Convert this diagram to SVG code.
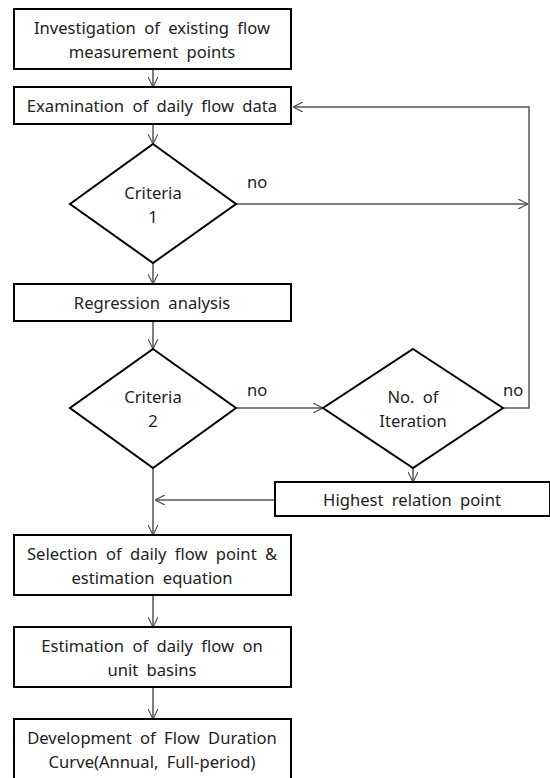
<svg xmlns="http://www.w3.org/2000/svg" width="550" height="778" viewBox="0 0 550 778">
<defs>
<marker id="arr" viewBox="0 0 10 10" refX="10" refY="5" markerWidth="10" markerHeight="10" markerUnits="userSpaceOnUse" orient="auto">
<path d="M0,0 L10,5 L0,10" fill="none" stroke="#555" stroke-width="1.2"/>
</marker>
<style>
.box{fill:#fff;stroke:#000;stroke-width:2}
.t{font-family:"Noto Sans","Open Sans",sans-serif;font-size:16.6px;fill:#222;text-anchor:middle;word-spacing:4px}
.l{font-family:"Noto Sans","Open Sans",sans-serif;font-size:16.6px;fill:#222}
.c{fill:none;stroke:#555;stroke-width:1.5}
</style>
</defs>
<rect width="550" height="778" fill="#fff"/>
<g id="connectors">
<line class="c" x1="153" y1="69" x2="153" y2="87" marker-end="url(#arr)"/>
<line class="c" x1="153" y1="124" x2="153" y2="144" marker-end="url(#arr)"/>
<line class="c" x1="153" y1="263" x2="153" y2="284" marker-end="url(#arr)"/>
<line class="c" x1="153" y1="321" x2="153" y2="349" marker-end="url(#arr)"/>
<line class="c" x1="236" y1="204" x2="528" y2="204" marker-end="url(#arr)"/>
<polyline class="c" points="503,408 529,408 529,107 293,107" marker-end="url(#arr)"/>
<line class="c" x1="236" y1="408" x2="323" y2="408" marker-end="url(#arr)"/>
<line class="c" x1="413" y1="468" x2="413" y2="482" marker-end="url(#arr)"/>
<line class="c" x1="275" y1="500" x2="155" y2="500" marker-end="url(#arr)"/>
<line class="c" x1="153" y1="468" x2="153" y2="535" marker-end="url(#arr)"/>
<line class="c" x1="153" y1="595" x2="153" y2="627" marker-end="url(#arr)"/>
<line class="c" x1="153" y1="687" x2="153" y2="719" marker-end="url(#arr)"/>
<text class="l" x="247" y="188">no</text>
<text class="l" x="247" y="396">no</text>
<text class="l" x="503" y="396">no</text>
</g>
<g id="n1">
<rect class="box" x="14" y="9" width="277" height="60"/>
<text class="t" x="152" y="34">Investigation of existing flow</text>
<text class="t" x="152" y="58">measurement points</text>
</g>
<g id="n2">
<rect class="box" x="14" y="87" width="277" height="37"/>
<text class="t" x="152" y="112">Examination of daily flow data</text>
</g>
<g id="d1">
<polygon class="box" points="153,144 236,204 153,263 70,204"/>
<text class="t" x="153" y="199">Criteria</text>
<text class="t" x="153" y="223">1</text>
</g>
<g id="n3">
<rect class="box" x="14" y="284" width="277" height="37"/>
<text class="t" x="152" y="309">Regression analysis</text>
</g>
<g id="d2">
<polygon class="box" points="153,349 236,408 153,468 70,408"/>
<text class="t" x="153" y="403">Criteria</text>
<text class="t" x="153" y="427">2</text>
</g>
<g id="d3">
<polygon class="box" points="413,349 503,408 413,468 323,408"/>
<text class="t" x="413" y="403">No. of</text>
<text class="t" x="413" y="427">Iteration</text>
</g>
<g id="n4">
<rect class="box" x="275" y="482" width="275" height="34"/>
<text class="t" x="412" y="506">Highest relation point</text>
</g>
<g id="n5">
<rect class="box" x="14" y="535" width="277" height="60"/>
<text class="t" x="152" y="560">Selection of daily flow point &amp;</text>
<text class="t" x="152" y="584">estimation equation</text>
</g>
<g id="n6">
<rect class="box" x="14" y="627" width="277" height="60"/>
<text class="t" x="152" y="652">Estimation of daily flow on</text>
<text class="t" x="152" y="676">unit basins</text>
</g>
<g id="n7">
<rect class="box" x="14" y="719" width="277" height="62"/>
<text class="t" x="152" y="744">Development of Flow Duration</text>
<text class="t" x="152" y="768">Curve(Annual, Full-period)</text>
</g>
</svg>
